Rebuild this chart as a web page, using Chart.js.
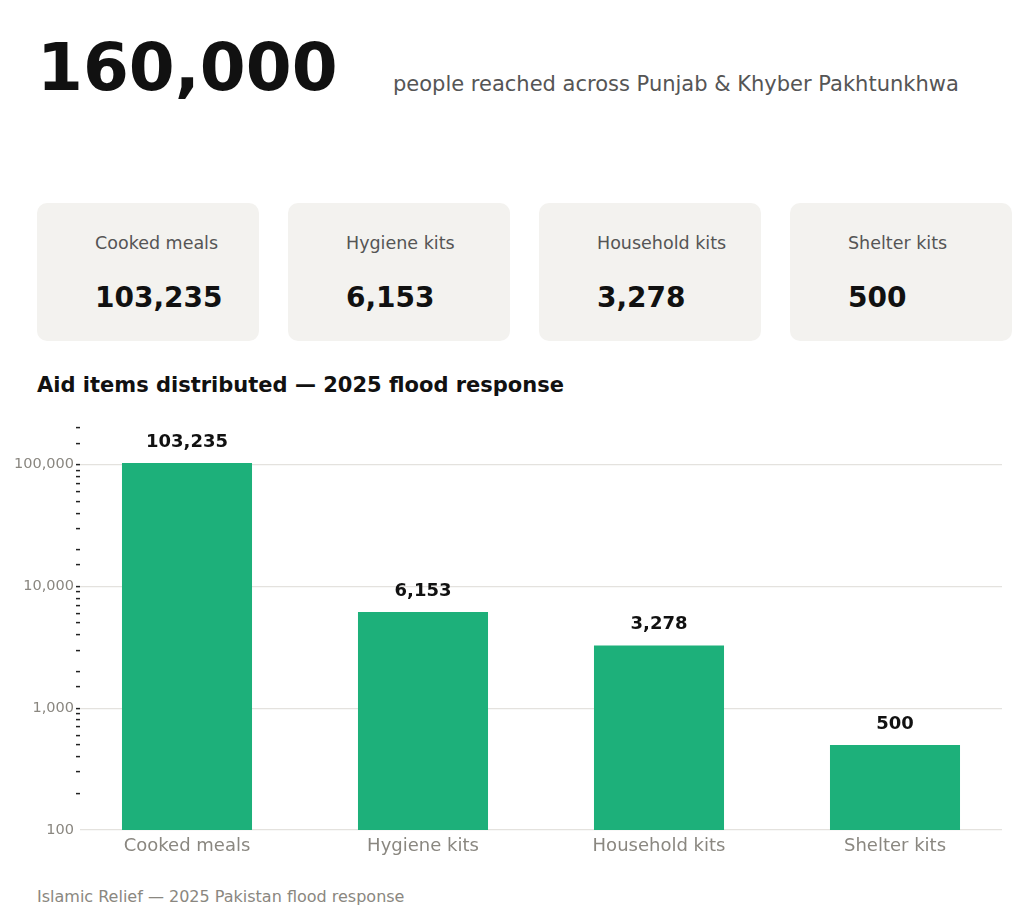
<!DOCTYPE html>
<html>
<head>
<meta charset="utf-8">
<script src="https://cdn.jsdelivr.net/npm/chart.js@4"></script>
<style>
  html,body{margin:0;padding:0;background:#fff;}
  body{width:1024px;height:919px;position:relative;overflow:hidden;font-family:"DejaVu Sans",sans-serif;}
  .t{position:absolute;white-space:nowrap;}
  #headline{left:37px;top:35px;font-size:66px;line-height:66px;font-weight:700;color:#111;}
  #sub{left:393px;top:74px;font-size:21px;line-height:21px;color:#555;}
  .card{position:absolute;top:203px;width:222px;height:138px;background:#f3f2ef;border-radius:10px;}
  .card .lbl{position:absolute;left:58px;top:32px;font-size:17.5px;line-height:17.5px;color:#555;white-space:nowrap;}
  .card .val{position:absolute;left:58px;top:81px;font-size:28px;line-height:28px;font-weight:700;color:#111;white-space:nowrap;}
  #title{left:37px;top:375px;font-size:21px;line-height:21px;font-weight:700;color:#111;}
  #foot{left:37px;top:889px;font-size:16px;line-height:16px;color:#8a8780;}
  #wrap{position:absolute;left:0;top:400px;width:1024px;height:470px;}
</style>
</head>
<body>
<div class="t" id="headline"></div>
<div class="t" id="sub"></div>
<div id="cards"></div>
<div class="t" id="title">Aid items distributed — 2025 flood response</div>
<div id="wrap"><canvas id="chart"></canvas></div>
<div class="t" id="foot">Islamic Relief — 2025 Pakistan flood response</div>
<script>
// ── dados ─────────────────────────────
const peopleReached = 160000;
const reachText = 'people reached across Punjab & Khyber Pakhtunkhwa';
const categories = ['Cooked meals', 'Hygiene kits', 'Household kits', 'Shelter kits'];
const itemsDistributed = [103235, 6153, 3278, 500];
const majorTicks = [100, 1000, 10000, 100000];
const yMin = 100, yMax = 200000;

const BAR = '#1db07a';
const GREY = '#8a8780';
const fmt = v => Number(v).toLocaleString('en-US');

// ── cabeçalho e cartões ───────────────
document.getElementById('headline').textContent = fmt(peopleReached);
document.getElementById('sub').textContent = reachText;
document.getElementById('cards').innerHTML = categories.map((c, i) => `
  <div class="card" style="left:${37 + i * 251}px">
    <div class="lbl">${c}</div>
    <div class="val">${fmt(itemsDistributed[i])}</div>
  </div>`).join('');

// rótulos em cima das barras
const valueLabels = {
  id: 'valueLabels',
  afterDatasetsDraw(chart) {
    const ctx = chart.ctx;
    const meta = chart.getDatasetMeta(0);
    ctx.save();
    ctx.font = 'bold 18px "DejaVu Sans"';
    ctx.fillStyle = '#111';
    ctx.textAlign = 'center';
    ctx.textBaseline = 'alphabetic';
    meta.data.forEach((bar, i) => ctx.fillText(fmt(itemsDistributed[i]), bar.x, bar.y - 16));
    ctx.restore();
  }
};

// eixo x linear p/ posicionar as categorias como no original
const XPAD = 0.4534;

new Chart(document.getElementById('chart'), {
  type: 'bar',
  data: {
    datasets: [{
      data: itemsDistributed.map((v, i) => ({ x: i, y: v })),
      backgroundColor: BAR,
      borderWidth: 0,
      categoryPercentage: 1,
      barPercentage: 0.551,
    }]
  },
  options: {
    responsive: true, maintainAspectRatio: false,
    animation: false,
    layout: { padding: { left: 0, right: 22, top: 28, bottom: 0 } },
    plugins: { legend: { display: false }, tooltip: { enabled: false } },
    scales: {
      x: {
        type: 'linear', min: -XPAD, max: categories.length - 1 + XPAD,
        offset: false,
        grid: { display: false, drawTicks: false, offset: false },
        border: { display: false },
        ticks: {
          stepSize: 1, includeBounds: false, autoSkip: false, maxRotation: 0, padding: 6,
          color: GREY, font: { family: 'DejaVu Sans', size: 18 },
          callback: v => categories[v] ?? ''
        },
        afterFit: s => { s.height = 40; }
      },
      y: {
        type: 'logarithmic', min: yMin, max: yMax,
        border: { display: false },
        grid: {
          color: c => (c.tick && c.tick.major) ? '#e4e2de' : 'rgba(0,0,0,0)',
          tickColor: c => (c.tick && c.tick.value === yMin) ? 'rgba(0,0,0,0)' : '#222',
          tickLength: 4, tickWidth: 1.5, lineWidth: 1.2
        },
        ticks: {
          autoSkip: false, padding: 2, color: GREY,
          font: { family: 'DejaVu Sans', size: 14.5 },
          callback: v => majorTicks.includes(v) ? fmt(v) : ''
        },
        afterFit: s => { s.width = 80; }
      }
    }
  },
  plugins: [valueLabels]
});
</script>
</body>
</html>
